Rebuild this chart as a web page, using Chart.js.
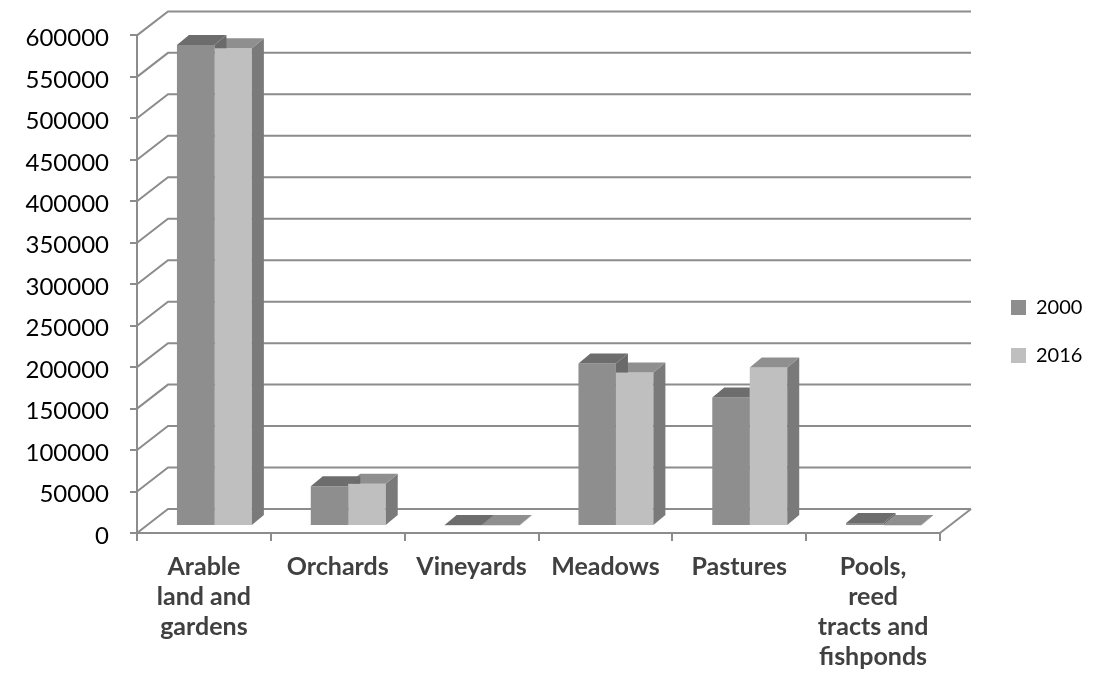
<!DOCTYPE html>
<html><head><meta charset="utf-8">
<script src="https://cdn.jsdelivr.net/npm/chart.js@4.4.1/dist/chart.umd.min.js"></script>
<style>html,body{margin:0;padding:0;background:#fff;overflow:hidden}canvas{display:block}</style>
</head><body>
<canvas id="c" width="1112" height="681"></canvas>
<script>
// ---- data ----
const categories = [["Arable","land and","gardens"],"Orchards","Vineyards","Meadows","Pastures",["Pools,","reed","tracts and","fishponds"]];
const seriesNames = ["2000","2016"];
const values2000 = [580000, 48000, 900, 196000, 155000, 3500];
const values2016 = [576000, 51000, 700, 185000, 191000, 600];
const yTickValues = [0,50000,100000,150000,200000,250000,300000,350000,400000,450000,500000,550000,600000];

// ---- styles ----
const frontColors = ["#8e8e8e","#bfbfbf"];
const topColors = ["#6d6d6d","#8f8f8f"];
const sideColors = ["#6a6a6a","#7a7a7a"];
const GRID = "#8c8c8c";
const WALL = {dx: 31, dy: -24};
const BAR_SHIFT = {dx: 10.5, dy: -7};
const BAR_DEPTH = {dx: 12, dy: -10};

const LEG_FONT = 20, LEG_BOX = 15, LEG_PAD = 28;
const PLOT_RIGHT = 940, SPACER = 43;
const mctx = document.createElement('canvas').getContext('2d');
mctx.font = LEG_FONT + 'px Lato';
const legTextW = Math.max(...seriesNames.map(s => mctx.measureText(s).width));
const legendWidth = LEG_PAD + LEG_BOX + LEG_FONT / 2 + legTextW + 10;
const padRight = Math.max(0, 1112 - PLOT_RIGHT - SPACER - legendWidth);

function faces(ctx, el, k) {
  const p = el.getProps(['x','y','base','width'], true);
  const l = p.x - p.width/2, r = p.x + p.width/2;
  const top = Math.min(p.y, p.base), bot = Math.max(p.y, p.base);
  const {dx, dy} = BAR_DEPTH;
  ctx.fillStyle = sideColors[k];
  ctx.beginPath(); ctx.moveTo(r, top); ctx.lineTo(r+dx, top+dy); ctx.lineTo(r+dx, bot+dy); ctx.lineTo(r, bot); ctx.closePath(); ctx.fill();
  ctx.fillStyle = topColors[k];
  ctx.beginPath(); ctx.moveTo(l, top); ctx.lineTo(l+dx, top+dy); ctx.lineTo(r+dx, top+dy); ctx.lineTo(r, top); ctx.closePath(); ctx.fill();
}

const threeD = {
  id: 'threeD',
  beforeDatasetsDraw(chart) {
    const {ctx, chartArea: a, scales: {y}} = chart;
    ctx.save();
    ctx.strokeStyle = GRID; ctx.lineWidth = 2;
    y.ticks.forEach(t => {
      const py = y.getPixelForValue(t.value);
      ctx.beginPath();
      ctx.moveTo(a.left, py);
      ctx.lineTo(a.left + WALL.dx, py + WALL.dy);
      ctx.lineTo(a.right + WALL.dx, py + WALL.dy);
      ctx.stroke();
    });
    const p0 = y.getPixelForValue(0);
    ctx.beginPath(); ctx.moveTo(a.right, p0); ctx.lineTo(a.right + WALL.dx, p0 + WALL.dy); ctx.stroke();
    ctx.restore();
    ctx.save();
    ctx.translate(BAR_SHIFT.dx, BAR_SHIFT.dy);
  },
  afterDatasetsDraw(chart) {
    const ctx = chart.ctx;
    const m0 = chart.getDatasetMeta(0), m1 = chart.getDatasetMeta(1);
    m1.data.forEach(el => faces(ctx, el, 1));
    m0.data.forEach((el, i) => {
      const p = m1.data[i].getProps(['x','y','width'], true);
      ctx.save();
      ctx.beginPath();
      ctx.rect(-10000, -10000, 30000, 30000);
      ctx.rect(p.x - p.width/2, p.y, p.width + 60, 3000);
      ctx.clip('evenodd');
      faces(ctx, el, 0);
      ctx.restore();
    });
    ctx.restore();
  }
};

new Chart(document.getElementById('c'), {
  type: 'bar',
  data: {
    labels: categories,
    datasets: [
      {label: seriesNames[0], data: values2000, backgroundColor: frontColors[0], clip: false},
      {label: seriesNames[1], data: values2016, backgroundColor: frontColors[1], clip: false}
    ]
  },
  options: {
    responsive: false,
    devicePixelRatio: 1,
    animation: false,
    categoryPercentage: 0.56,
    barPercentage: 1.0,
    layout: {padding: {left: 0, top: 33.5, right: padRight, bottom: 0}},
    plugins: {
      tooltip: {enabled: false},
      legend: {
        position: 'right',
        fullSize: false,
        align: 'center',
        title: {display: true, text: '', font: {size: 10, lineHeight: '10px'}, padding: {top: 84.5, bottom: 0}},
        labels: {
          boxWidth: LEG_BOX, boxHeight: LEG_BOX, padding: LEG_PAD, color: '#000',
          font: {family: 'Lato', size: LEG_FONT}
        }
      }
    },
    scales: {
      x: {
        grid: {display: true, drawOnChartArea: false, drawTicks: true, tickLength: 8, color: GRID, lineWidth: 2, offset: true},
        border: {display: true, color: GRID, width: 2},
        ticks: {autoSkip: false, maxRotation: 0, minRotation: 0, padding: 11, color: '#404040',
          font: {family: 'Lato', size: 25, weight: 'bold', lineHeight: '30px'}},
        afterFit(s) { s.height = 148; }
      },
      y: {
        min: 0, max: 600000,
        grid: {display: true, drawOnChartArea: false, drawTicks: true, tickLength: 7, color: GRID, lineWidth: 2},
        border: {display: true, color: GRID, width: 2},
        ticks: {padding: 21, color: '#000', labelOffset: 3, font: {family: 'Lato', size: 24},
          callback: v => String(v)},
        afterBuildTicks(s) { s.ticks = yTickValues.map(v => ({value: v})); },
        afterFit(s) { s.width = 137; }
      },
      ySpacer: {
        type: 'linear', position: 'right', display: true,
        grid: {display: false, drawTicks: false}, border: {display: false},
        ticks: {display: false},
        afterFit(s) { s.width = SPACER; }
      }
    }
  },
  plugins: [threeD]
});
</script>
</body></html>
